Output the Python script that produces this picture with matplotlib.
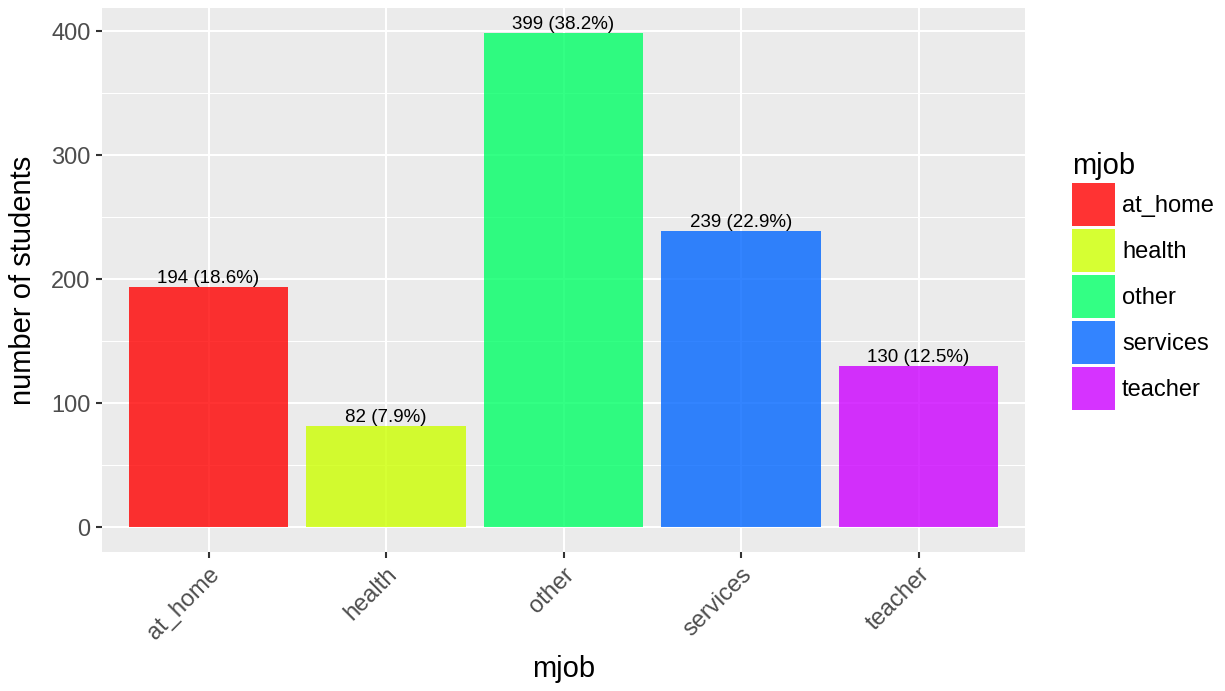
import matplotlib
matplotlib.use("Agg")
import matplotlib.pyplot as plt
from matplotlib.patches import Patch
import numpy as np

# mother's job counts
mjob = ['at_home', 'health', 'other', 'services', 'teacher']
counts = [194, 82, 399, 239, 130]
pct = [18.6, 7.9, 38.2, 22.9, 12.5]
colors = ['#FF0000', '#CCFF00', '#00FF66', '#0066FF', '#CC00FF']

yticks = [0, 100, 200, 300, 400]
yminor = [50, 150, 250, 350]

plt.rcParams['font.family'] = ['Liberation Sans', 'DejaVu Sans']

fig = plt.figure(figsize=(12.25, 6.91), dpi=100)
ax = fig.add_axes([102 / 1225, 1 - 552 / 691, 923 / 1225, 544 / 691])
ax.set_facecolor('#EBEBEB')

x = np.arange(1, len(mjob) + 1)
ax.bar(x, counts, width=0.9, color=colors, alpha=0.8, zorder=3, linewidth=0)

for xi, c, p in zip(x, counts, pct):
    ax.text(xi, c, '%d (%.1f%%)' % (c, p), ha='center', va='bottom',
            fontsize=13.5, color='black', zorder=4)

ax.set_xlim(0.4, 5.6)
ax.set_ylim(-0.05 * 399, 399 * 1.05)

ax.set_xticks(x)
ax.set_xticklabels(mjob, rotation=45, ha='right', va='top', rotation_mode='anchor')
ax.set_yticks(yticks)
ax.set_yticks(yminor, minor=True)

ax.grid(True, which='major', color='white', linewidth=1.5, zorder=0)
ax.grid(True, which='minor', axis='y', color='white', linewidth=0.75, zorder=0)
ax.set_axisbelow(True)

ax.tick_params(which='major', length=4.3, width=1.5, color='#333333',
               labelcolor='#4D4D4D', labelsize=17, pad=4)
ax.tick_params(which='minor', length=0)
for s in ax.spines.values():
    s.set_visible(False)

ax.set_xlabel('mjob', fontsize=21, labelpad=8)
ax.set_ylabel('number of students', fontsize=21, labelpad=10)

handles = [Patch(facecolor=c, alpha=0.8, edgecolor='none') for c in colors]
fig.legend(handles, mjob, loc='upper left',
           bbox_to_anchor=(1072 / 1225, 1 - 152 / 691),
           frameon=False, fontsize=17, title='mjob', title_fontsize=21,
           alignment='left', borderpad=0, borderaxespad=0,
           handlelength=1.82, handleheight=2.42, labelspacing=0.13,
           handletextpad=0.3)

fig.savefig('out.png', dpi=100)
